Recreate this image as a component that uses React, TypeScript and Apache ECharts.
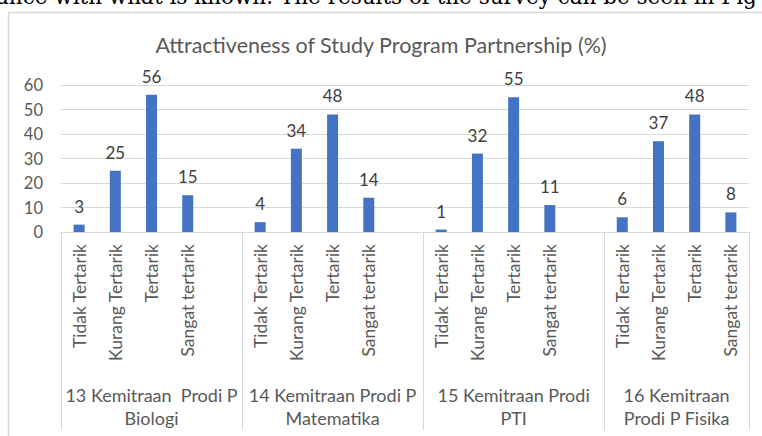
import React, { useEffect, useRef } from "react";
import * as echarts from "echarts";

const levels = ["Tidak Tertarik", "Kurang Tertarik", "Tertarik", "Sangat tertarik"];
const groups = [
  "13 Kemitraan  Prodi P\nBiologi",
  "14 Kemitraan Prodi P\nMatematika",
  "15 Kemitraan Prodi\nPTI",
  "16 Kemitraan\nProdi P Fisika",
];
const biologi = [3, 25, 56, 15];
const matematika = [4, 34, 48, 14];
const pti = [1, 32, 55, 11];
const fisika = [6, 37, 48, 8];
const yTicks = [0, 10, 20, 30, 40, 50, 60];
const title = "Attractiveness of Study Program Partnership (%)";
const docText = "ance with what is known. The results of the survey can be seen in Fig";

const groupValues = [biologi, matematika, pti, fisika];

export default function App() {
  const ref = useRef<HTMLDivElement>(null);
  useEffect(() => {
    if (!ref.current) return;
    const chart = echarts.init(ref.current, null, { renderer: "svg" });

    const categories: string[] = [];
    const values: (number | string)[] = [];
    const boundaries: number[] = [0];
    const centers: number[] = [];
    groupValues.forEach((g, gi) => {
      const start = categories.length;
      levels.forEach((l, i) => {
        categories.push(l);
        values.push(g[i]);
      });
      if (gi < groupValues.length - 1) {
        categories.push("");
        values.push("-");
      }
      boundaries.push(categories.length);
      centers.push((start + categories.length) / 2);
    });
    const n = categories.length;

    chart.setOption({
      animation: false,
      textStyle: { fontFamily: "Lato" },
      title: {
        text: title,
        left: "center",
        top: 29,
        textStyle: { fontFamily: "Lato", fontSize: 21.5, fontWeight: "normal", color: "#595959" },
      },
      graphic: [
        {
          type: "rect",
          shape: { x: 8.5, y: 12.5, width: 900, height: 600 },
          style: { fill: "none", stroke: "#d9d9d9", lineWidth: 1.5 },
          silent: true,
        },
        {
          type: "text",
          x: -4,
          y: 7,
          style: {
            text: docText,
            fontFamily: "DejaVu Serif",
            fontSize: 21.5,
            fill: "#000",
            verticalAlign: "bottom",
            align: "left",
          },
        },
      ],
      grid: { left: 61, right: 13, top: 85, bottom: 204, containLabel: false },
      xAxis: [
        {
          type: "category",
          data: categories,
          position: "bottom",
          axisLine: { lineStyle: { color: "#d9d9d9" } },
          axisTick: { show: false },
          axisLabel: {
            rotate: 90,
            interval: 0,
            margin: 12,
            fontSize: 17.5,
            fontFamily: "Lato",
            color: "#595959",
          },
        },
        {
          type: "value",
          min: 0,
          max: n,
          position: "bottom",
          axisLine: { show: false },
          splitLine: { show: false },
          axisTick: {
            show: true,
            customValues: boundaries,
            length: 198,
            lineStyle: { color: "#d9d9d9" },
          },
          axisLabel: {
            customValues: centers,
            formatter: (v: number) => {
              const idx = centers.findIndex((c) => Math.abs(c - v) < 1e-6);
              return idx >= 0 ? groups[idx] : "";
            },
            margin: 151,
            fontSize: 18,
            lineHeight: 23,
            fontFamily: "Lato",
            color: "#595959",
            align: "center",
          },
        },
      ],
      yAxis: {
        type: "value",
        min: 0,
        max: 60,
        interval: 10,
        axisLine: { show: false },
        axisTick: { show: false },
        splitLine: { lineStyle: { color: "#d9d9d9" } },
        axisLabel: {
          margin: 18,
          fontSize: 16.5,
          fontFamily: "Lato",
          color: "#595959",
          customValues: yTicks,
        },
      },
      series: [
        {
          type: "bar",
          data: values,
          xAxisIndex: 0,
          barWidth: 11,
          itemStyle: { color: "#4472C4" },
          label: {
            show: true,
            position: "top",
            distance: 10,
            fontSize: 17,
            fontFamily: "Lato",
            color: "#404040",
          },
        },
      ],
    });
    return () => chart.dispose();
  }, []);
  return <div ref={ref} style={{ width: 762, height: 436, position: "absolute", left: 0, top: 0 }} />;
}
